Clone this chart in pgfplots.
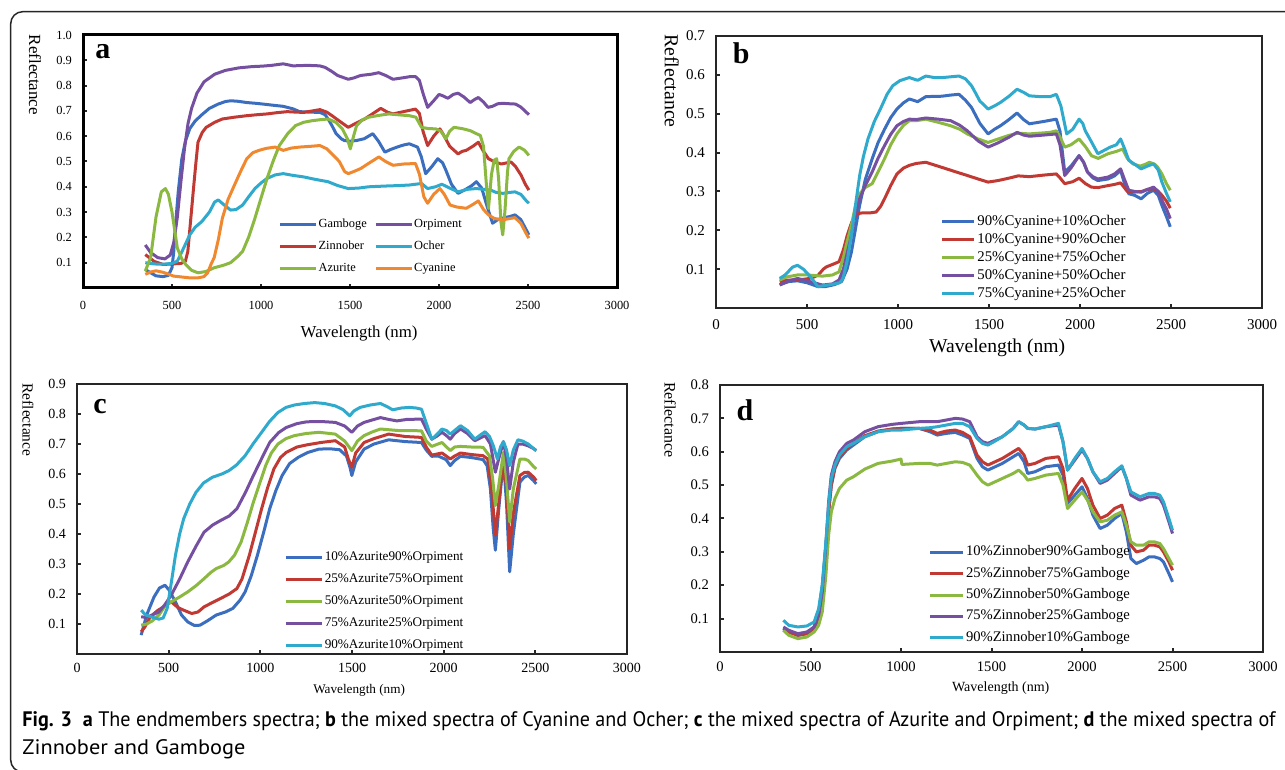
\documentclass[border=0pt]{standalone}
\usepackage{fontspec}
\setmainfont{Liberation Serif}
\newfontfamily\capfont{PT Sans}
\usepackage{graphicx}
\usepackage{pgfplots}
\pgfplotsset{compat=1.18}

\definecolor{cblue}{RGB}{59,110,190}
\definecolor{cred}{RGB}{192,57,50}
\definecolor{cgreen}{RGB}{139,184,64}
\definecolor{cpurple}{RGB}{118,80,160}
\definecolor{ccyan}{RGB}{48,170,204}
\definecolor{corange}{RGB}{240,136,48}

\pgfplotsset{
  spec/.style={
    scale only axis, xmin=0, xmax=3000, ymin=0,
    xtick={0,500,1000,1500,2000,2500,3000},
    xticklabels={0,500,1000,1500,2000,2500,3000},
    xtick pos=bottom, ytick pos=left, tick align=inside,
    major tick length=2pt, tick style={black!85, line width=1pt},
    axis line style={black!85, line width=1pt},
    legend cell align=left,
    every axis plot/.append style={line width=1.5pt, line join=round},
  },
  leglen/.style={legend image code/.code={\draw[##1, line width=1.5pt] (0pt,0pt) -- (#1,0pt);}},
}

\begin{document}
\begin{tikzpicture}
\useasboundingbox (0,0) rectangle (642.5pt,385pt);
\begin{scope}
\clip (0,0) rectangle (642.5pt,385pt);
\draw[black!85, line width=0.75pt, rounded corners=6pt] (5.35pt,-1pt) rectangle (660pt,379.15pt);
\end{scope}

% ---------------- a: endmembers
\begin{axis}[spec, at={(41.5pt,241pt)}, anchor=south west, width=267pt, height=126.5pt, ymax=1,
  ytick={0.1,0.2,0.3,0.4,0.5,0.6,0.7,0.8,0.9,1.0},
  yticklabels={0.1,0.2,0.3,0.4,0.5,0.6,0.7,0.8,0.9,1.0},
  axis line style={black, line width=1.5pt},
  tick label style={font=\fontsize{6.2}{7}\selectfont},
  xticklabel style={yshift=-3pt}, yticklabel style={xshift=-2pt},
  xlabel={Wavelength (nm)},
  xlabel style={font=\fontsize{8.4}{10}\selectfont, at={(axis description cs:0.517,-0.178)}, anchor=center},
  ylabel={Reflectance},
  ylabel style={font=\fontsize{8.5}{10}\selectfont, rotate=180, at={(axis description cs:-0.09,0.842)}, anchor=center},
  legend columns=2, leglen=18pt,
  legend style={at={(axis description cs:0.354,0.295)}, anchor=north west, draw=none, fill=none,
    font=\fontsize{6.2}{7}\selectfont, row sep=4pt, nodes={inner sep=0.6pt},
    /tikz/column 2/.style={column sep=3pt}},
]
\addplot[cblue] coordinates {(350,0.073)(380,0.06)(410,0.048)(450,0.045)(480,0.05)(500,0.08)(510,0.145)(520,0.25)(535,0.38)(555,0.51)(575,0.58)(600,0.63)(630,0.66)(668,0.685)(710,0.71)(760,0.727)(800,0.737)(830,0.74)(870,0.738)(920,0.733)(970,0.73)(1011,0.727)(1060,0.723)(1125,0.718)(1180,0.708)(1217,0.697)(1280,0.695)(1331,0.694)(1360,0.685)(1377,0.668)(1400,0.64)(1422,0.61)(1450,0.59)(1468,0.583)(1500,0.58)(1537,0.583)(1580,0.59)(1628,0.61)(1660,0.58)(1696,0.537)(1730,0.548)(1765,0.557)(1800,0.565)(1833,0.57)(1879,0.557)(1900,0.52)(1925,0.452)(1960,0.48)(1993,0.511)(2020,0.495)(2039,0.465)(2070,0.41)(2107,0.374)(2150,0.39)(2185,0.405)(2210,0.42)(2240,0.395)(2267,0.33)(2285,0.29)(2301,0.256)(2330,0.27)(2358,0.276)(2400,0.283)(2427,0.289)(2460,0.27)(2490,0.23)(2505,0.21)};
\addlegendentry{Gamboge}
\addplot[cpurple] coordinates {(350,0.17)(380,0.14)(420,0.12)(460,0.115)(490,0.13)(510,0.18)(530,0.28)(550,0.42)(570,0.55)(590,0.65)(610,0.71)(640,0.77)(680,0.815)(740,0.845)(800,0.86)(875,0.87)(950,0.875)(1010,0.877)(1060,0.88)(1125,0.886)(1180,0.878)(1262,0.88)(1330,0.878)(1360,0.872)(1400,0.855)(1430,0.84)(1490,0.825)(1520,0.83)(1560,0.84)(1620,0.845)(1662,0.851)(1700,0.84)(1742,0.825)(1790,0.83)(1833,0.835)(1870,0.835)(1890,0.82)(1910,0.77)(1936,0.714)(1970,0.74)(2000,0.765)(2020,0.76)(2050,0.75)(2080,0.765)(2107,0.77)(2140,0.755)(2175,0.733)(2200,0.745)(2221,0.753)(2250,0.735)(2275,0.714)(2300,0.718)(2330,0.728)(2358,0.73)(2400,0.728)(2430,0.727)(2460,0.715)(2490,0.695)(2505,0.685)};
\addlegendentry{Orpiment}
\addplot[cred] coordinates {(350,0.132)(400,0.105)(450,0.093)(500,0.095)(550,0.097)(575,0.105)(589,0.145)(605,0.27)(623,0.41)(635,0.5)(646,0.576)(670,0.615)(692,0.635)(740,0.655)(783,0.668)(850,0.675)(920,0.681)(980,0.685)(1034,0.688)(1090,0.693)(1148,0.697)(1200,0.695)(1240,0.694)(1290,0.7)(1331,0.705)(1370,0.695)(1399,0.681)(1440,0.66)(1490,0.635)(1530,0.65)(1582,0.668)(1630,0.69)(1673,0.71)(1710,0.695)(1742,0.688)(1800,0.697)(1840,0.703)(1868,0.707)(1890,0.69)(1910,0.62)(1936,0.563)(1970,0.6)(2005,0.629)(2030,0.6)(2060,0.56)(2107,0.53)(2130,0.54)(2153,0.544)(2190,0.56)(2221,0.576)(2250,0.54)(2278,0.511)(2313,0.498)(2350,0.49)(2404,0.498)(2430,0.48)(2461,0.446)(2485,0.41)(2505,0.387)};
\addlegendentry{Zinnober}
\addplot[ccyan] coordinates {(350,0.1)(400,0.095)(450,0.094)(500,0.097)(530,0.106)(560,0.15)(600,0.21)(630,0.24)(668,0.263)(710,0.3)(740,0.34)(760,0.348)(790,0.33)(829,0.308)(860,0.31)(897,0.328)(930,0.36)(966,0.393)(1000,0.415)(1034,0.433)(1080,0.447)(1125,0.452)(1180,0.445)(1240,0.439)(1300,0.43)(1377,0.42)(1430,0.405)(1490,0.393)(1550,0.395)(1605,0.4)(1700,0.403)(1780,0.405)(1833,0.407)(1902,0.413)(1936,0.393)(1980,0.4)(2016,0.41)(2060,0.395)(2107,0.38)(2160,0.39)(2210,0.393)(2250,0.39)(2290,0.387)(2320,0.378)(2358,0.374)(2400,0.378)(2427,0.38)(2460,0.37)(2490,0.345)(2505,0.335)};
\addlegendentry{Ocher}
\addplot[cgreen] coordinates {(350,0.067)(380,0.12)(410,0.28)(440,0.38)(463,0.393)(480,0.37)(500,0.3)(530,0.158)(555,0.115)(577,0.093)(610,0.07)(646,0.06)(690,0.065)(737,0.08)(790,0.09)(829,0.1)(870,0.125)(897,0.145)(930,0.2)(966,0.276)(1000,0.355)(1034,0.433)(1070,0.505)(1103,0.563)(1150,0.61)(1194,0.642)(1240,0.655)(1285,0.661)(1330,0.665)(1377,0.668)(1420,0.655)(1457,0.629)(1485,0.59)(1502,0.55)(1520,0.6)(1537,0.642)(1570,0.665)(1605,0.675)(1660,0.682)(1719,0.688)(1780,0.684)(1833,0.681)(1870,0.675)(1902,0.635)(1940,0.63)(1982,0.629)(2010,0.62)(2039,0.59)(2060,0.62)(2084,0.635)(2130,0.63)(2175,0.622)(2210,0.61)(2232,0.603)(2250,0.56)(2265,0.42)(2278,0.315)(2295,0.45)(2310,0.505)(2324,0.511)(2335,0.43)(2348,0.26)(2358,0.21)(2370,0.3)(2385,0.46)(2393,0.511)(2420,0.54)(2450,0.557)(2480,0.545)(2505,0.524)};
\addlegendentry{Azurite}
\addplot[corange] coordinates {(350,0.054)(380,0.063)(410,0.068)(450,0.062)(480,0.055)(509,0.047)(560,0.043)(600,0.04)(646,0.04)(680,0.045)(700,0.06)(720,0.095)(737,0.12)(760,0.19)(783,0.276)(815,0.35)(851,0.407)(885,0.46)(920,0.511)(955,0.535)(989,0.544)(1030,0.552)(1080,0.557)(1125,0.544)(1170,0.553)(1217,0.557)(1280,0.56)(1331,0.563)(1370,0.55)(1399,0.53)(1440,0.5)(1470,0.46)(1490,0.452)(1520,0.46)(1560,0.472)(1610,0.495)(1662,0.518)(1700,0.5)(1742,0.485)(1800,0.49)(1868,0.492)(1890,0.45)(1915,0.36)(1936,0.335)(1970,0.37)(2005,0.393)(2030,0.37)(2062,0.328)(2100,0.32)(2153,0.315)(2190,0.33)(2221,0.344)(2250,0.31)(2278,0.289)(2310,0.275)(2358,0.269)(2400,0.275)(2427,0.278)(2460,0.255)(2490,0.215)(2505,0.197)};
\addlegendentry{Cyanine}
\node[font=\bfseries\fontsize{15}{15}\selectfont] at (rel axis cs:0.037,0.935) {a};
\end{axis}

% ---------------- b: Cyanine + Ocher
\begin{axis}[spec, at={(358pt,231pt)}, anchor=south west, width=273pt, height=136pt, ymax=0.7,
  ytick={0.1,0.2,0.3,0.4,0.5,0.6,0.7},
  yticklabels={0.1,0.2,0.3,0.4,0.5,0.6,0.7},
  tick label style={font=\fontsize{7.5}{9}\selectfont},
  xticklabel style={yshift=-2pt}, yticklabel style={xshift=-2pt},
  xlabel={Wavelength (nm)},
  xlabel style={font=\fontsize{9.8}{11}\selectfont, at={(axis description cs:0.515,-0.147)}, anchor=center},
  ylabel={Reflectance},
  ylabel style={font=\fontsize{9.9}{11}\selectfont, rotate=180, at={(axis description cs:-0.081,0.835)}, anchor=center},
  leglen=16pt,
  legend style={at={(axis description cs:0.40,0.364)}, anchor=north west, draw=none, fill=none,
    font=\fontsize{7.4}{8}\selectfont, row sep=0.8pt, nodes={inner sep=0.8pt}},
]
\addplot[cblue] coordinates {(350,0.06)(400,0.068)(448,0.07)(500,0.065)(560,0.055)(600,0.055)(650,0.06)(690,0.068)(720,0.1)(744,0.144)(765,0.2)(789,0.264)(820,0.33)(858,0.384)(890,0.425)(926,0.46)(960,0.49)(994,0.512)(1030,0.528)(1062,0.538)(1108,0.531)(1153,0.544)(1240,0.545)(1290,0.548)(1335,0.55)(1370,0.535)(1404,0.516)(1450,0.475)(1495,0.448)(1530,0.46)(1563,0.469)(1610,0.485)(1654,0.502)(1690,0.485)(1722,0.474)(1800,0.48)(1870,0.486)(1890,0.455)(1916,0.35)(1950,0.365)(1995,0.392)(2020,0.375)(2041,0.35)(2070,0.335)(2098,0.328)(2154,0.332)(2190,0.34)(2223,0.354)(2245,0.32)(2268,0.294)(2300,0.29)(2336,0.281)(2370,0.295)(2404,0.303)(2430,0.29)(2450,0.264)(2475,0.235)(2496,0.209)};
\addlegendentry{90\%Cyanine+10\%Ocher}
\addplot[cred] coordinates {(350,0.068)(400,0.072)(448,0.072)(500,0.075)(530,0.078)(562,0.085)(590,0.1)(607,0.106)(640,0.112)(676,0.119)(700,0.15)(721,0.187)(745,0.22)(767,0.238)(790,0.244)(812,0.245)(850,0.245)(880,0.247)(905,0.262)(926,0.281)(960,0.315)(994,0.345)(1030,0.36)(1062,0.367)(1100,0.372)(1153,0.375)(1200,0.368)(1267,0.358)(1320,0.35)(1381,0.341)(1440,0.332)(1495,0.324)(1550,0.328)(1608,0.334)(1660,0.34)(1722,0.338)(1800,0.342)(1870,0.345)(1890,0.335)(1916,0.32)(1960,0.325)(1995,0.334)(2030,0.32)(2063,0.311)(2100,0.31)(2154,0.315)(2190,0.318)(2223,0.322)(2260,0.3)(2291,0.298)(2340,0.3)(2370,0.305)(2404,0.307)(2430,0.3)(2450,0.29)(2475,0.275)(2496,0.257)};
\addlegendentry{10\%Cyanine+90\%Ocher}
\addplot[cgreen] coordinates {(350,0.072)(390,0.08)(448,0.085)(500,0.085)(585,0.082)(640,0.085)(676,0.093)(700,0.13)(720,0.17)(744,0.213)(765,0.26)(789,0.294)(820,0.31)(858,0.32)(890,0.35)(926,0.384)(960,0.42)(994,0.448)(1030,0.47)(1062,0.482)(1100,0.482)(1153,0.486)(1220,0.478)(1290,0.469)(1340,0.46)(1381,0.448)(1440,0.435)(1495,0.426)(1550,0.435)(1608,0.444)(1660,0.45)(1720,0.448)(1780,0.45)(1836,0.452)(1870,0.456)(1890,0.44)(1916,0.414)(1950,0.42)(1995,0.435)(2030,0.415)(2063,0.392)(2100,0.385)(2154,0.397)(2200,0.403)(2234,0.409)(2260,0.385)(2291,0.371)(2330,0.365)(2360,0.37)(2382,0.375)(2410,0.37)(2427,0.362)(2450,0.345)(2475,0.32)(2496,0.303)};
\addlegendentry{25\%Cyanine+75\%Ocher}
\addplot[cpurple] coordinates {(350,0.059)(400,0.07)(448,0.076)(500,0.07)(585,0.059)(640,0.062)(676,0.072)(700,0.1)(720,0.14)(744,0.187)(765,0.24)(789,0.281)(820,0.315)(858,0.35)(890,0.385)(926,0.418)(960,0.447)(994,0.469)(1030,0.48)(1062,0.486)(1100,0.485)(1153,0.489)(1220,0.486)(1290,0.482)(1340,0.47)(1381,0.456)(1440,0.43)(1495,0.414)(1550,0.425)(1608,0.439)(1654,0.452)(1690,0.445)(1722,0.442)(1800,0.445)(1870,0.448)(1890,0.42)(1916,0.341)(1950,0.36)(1995,0.392)(2020,0.375)(2041,0.35)(2070,0.338)(2098,0.332)(2154,0.337)(2190,0.345)(2223,0.358)(2245,0.33)(2268,0.303)(2300,0.3)(2336,0.298)(2370,0.305)(2404,0.311)(2430,0.3)(2450,0.277)(2475,0.255)(2496,0.23)};
\addlegendentry{50\%Cyanine+50\%Ocher}
\addplot[ccyan] coordinates {(350,0.076)(380,0.085)(420,0.105)(448,0.11)(480,0.1)(520,0.08)(560,0.055)(600,0.058)(650,0.062)(680,0.065)(698,0.076)(720,0.12)(744,0.187)(765,0.26)(789,0.34)(810,0.39)(835,0.435)(870,0.48)(903,0.512)(940,0.55)(971,0.572)(1010,0.585)(1062,0.593)(1108,0.586)(1153,0.597)(1200,0.593)(1244,0.593)(1290,0.595)(1335,0.597)(1370,0.59)(1404,0.572)(1430,0.55)(1449,0.533)(1495,0.512)(1530,0.52)(1563,0.529)(1610,0.545)(1654,0.563)(1690,0.555)(1722,0.546)(1780,0.544)(1836,0.544)(1870,0.55)(1895,0.52)(1927,0.448)(1960,0.46)(1995,0.486)(2015,0.475)(2029,0.456)(2060,0.43)(2098,0.397)(2130,0.405)(2166,0.414)(2200,0.42)(2223,0.435)(2245,0.41)(2268,0.38)(2300,0.37)(2336,0.358)(2370,0.365)(2404,0.371)(2430,0.355)(2450,0.324)(2475,0.295)(2496,0.273)};
\addlegendentry{75\%Cyanine+25\%Ocher}
\node[font=\bfseries\fontsize{15}{15}\selectfont] at (rel axis cs:0.046,0.935) {b};
\end{axis}

% ---------------- c: Azurite + Orpiment
\begin{axis}[spec, at={(38.5pt,58pt)}, anchor=south west, width=275pt, height=135pt, ymax=0.9,
  ytick={0.1,0.2,0.3,0.4,0.5,0.6,0.7,0.8,0.9},
  yticklabels={0.1,0.2,0.3,0.4,0.5,0.6,0.7,0.8,0.9},
  tick label style={font=\fontsize{7}{8}\selectfont},
  xticklabel style={yshift=-1pt}, yticklabel style={xshift=-2pt},
  xlabel={Wavelength (nm)},
  xlabel style={font=\fontsize{6.6}{8}\selectfont, at={(axis description cs:0.513,-0.133)}, anchor=center},
  ylabel={Reflectance},
  ylabel style={font=\fontsize{7.7}{9}\selectfont, rotate=180, at={(axis description cs:-0.089,0.867)}, anchor=center},
  leglen=18pt,
  legend style={at={(axis description cs:0.365,0.4)}, anchor=north west, draw=none, fill=none,
    font=\fontsize{6.6}{8}\selectfont, row sep=3.5pt, nodes={inner sep=0.8pt}},
]
\addplot[cblue] coordinates {(350,0.063)(380,0.13)(420,0.19)(450,0.22)(480,0.229)(500,0.215)(537,0.174)(570,0.13)(604,0.107)(640,0.095)(671,0.096)(710,0.11)(760,0.13)(810,0.14)(850,0.152)(890,0.18)(917,0.207)(950,0.26)(984,0.329)(1020,0.41)(1051,0.484)(1085,0.545)(1119,0.595)(1160,0.635)(1208,0.656)(1260,0.672)(1320,0.683)(1380,0.684)(1432,0.681)(1470,0.66)(1490,0.62)(1499,0.595)(1520,0.64)(1566,0.683)(1620,0.7)(1700,0.714)(1790,0.708)(1879,0.705)(1905,0.68)(1935,0.659)(1970,0.66)(2013,0.648)(2036,0.628)(2060,0.645)(2092,0.659)(2150,0.655)(2215,0.648)(2237,0.628)(2255,0.55)(2270,0.42)(2282,0.346)(2300,0.48)(2326,0.648)(2343,0.5)(2360,0.274)(2380,0.4)(2416,0.573)(2440,0.59)(2461,0.595)(2490,0.578)(2505,0.567)};
\addlegendentry{10\%Azurite90\%Orpiment}
\addplot[cred] coordinates {(350,0.074)(370,0.09)(400,0.124)(440,0.145)(480,0.16)(514,0.174)(550,0.155)(582,0.146)(626,0.135)(660,0.14)(693,0.157)(740,0.172)(783,0.185)(830,0.2)(872,0.218)(900,0.25)(940,0.329)(975,0.41)(1007,0.484)(1040,0.555)(1074,0.617)(1110,0.655)(1141,0.672)(1200,0.69)(1253,0.697)(1330,0.705)(1409,0.711)(1460,0.69)(1480,0.65)(1499,0.622)(1520,0.67)(1566,0.705)(1620,0.718)(1700,0.733)(1790,0.725)(1879,0.722)(1905,0.69)(1935,0.663)(1991,0.67)(2036,0.65)(2060,0.66)(2092,0.67)(2150,0.665)(2215,0.661)(2240,0.65)(2262,0.55)(2282,0.395)(2300,0.5)(2326,0.659)(2343,0.55)(2360,0.351)(2380,0.47)(2416,0.595)(2440,0.605)(2461,0.606)(2490,0.59)(2505,0.578)};
\addlegendentry{25\%Azurite75\%Orpiment}
\addplot[cgreen] coordinates {(350,0.096)(380,0.1)(410,0.11)(447,0.13)(480,0.16)(514,0.174)(560,0.19)(604,0.207)(650,0.228)(693,0.251)(730,0.272)(760,0.285)(800,0.295)(828,0.307)(860,0.33)(895,0.373)(930,0.44)(962,0.506)(1000,0.575)(1029,0.628)(1060,0.67)(1096,0.7)(1140,0.718)(1186,0.728)(1250,0.735)(1320,0.739)(1409,0.733)(1460,0.71)(1499,0.678)(1530,0.71)(1566,0.728)(1610,0.74)(1655,0.75)(1750,0.745)(1879,0.744)(1905,0.71)(1935,0.692)(1991,0.705)(2036,0.678)(2060,0.69)(2092,0.692)(2150,0.69)(2215,0.689)(2250,0.66)(2268,0.58)(2282,0.495)(2300,0.56)(2326,0.672)(2343,0.58)(2360,0.44)(2380,0.55)(2416,0.65)(2440,0.65)(2461,0.645)(2490,0.625)(2505,0.617)};
\addlegendentry{50\%Azurite50\%Orpiment}
\addplot[cpurple] coordinates {(350,0.124)(380,0.122)(410,0.13)(447,0.14)(480,0.165)(514,0.196)(560,0.25)(604,0.307)(650,0.36)(693,0.406)(740,0.43)(783,0.445)(830,0.46)(872,0.484)(920,0.54)(962,0.595)(1010,0.655)(1051,0.705)(1100,0.738)(1141,0.755)(1200,0.768)(1253,0.774)(1330,0.775)(1409,0.772)(1460,0.76)(1499,0.739)(1530,0.76)(1566,0.772)(1610,0.78)(1655,0.788)(1700,0.782)(1745,0.777)(1800,0.782)(1879,0.783)(1905,0.75)(1935,0.716)(1960,0.725)(1991,0.739)(2015,0.728)(2036,0.716)(2060,0.735)(2092,0.75)(2130,0.735)(2170,0.711)(2200,0.72)(2226,0.728)(2255,0.7)(2282,0.606)(2300,0.65)(2326,0.708)(2343,0.65)(2360,0.55)(2380,0.64)(2405,0.7)(2430,0.7)(2461,0.694)(2490,0.685)(2505,0.678)};
\addlegendentry{75\%Azurite25\%Orpiment}
\addplot[ccyan] coordinates {(350,0.146)(375,0.13)(403,0.124)(447,0.116)(470,0.12)(492,0.152)(515,0.24)(537,0.329)(560,0.4)(582,0.451)(615,0.5)(649,0.539)(690,0.57)(738,0.589)(790,0.6)(828,0.611)(870,0.63)(917,0.661)(960,0.7)(1007,0.739)(1050,0.775)(1096,0.805)(1140,0.822)(1186,0.83)(1240,0.835)(1297,0.838)(1350,0.835)(1409,0.827)(1450,0.815)(1488,0.794)(1510,0.81)(1544,0.822)(1600,0.83)(1655,0.835)(1690,0.825)(1722,0.814)(1770,0.82)(1812,0.822)(1850,0.82)(1879,0.816)(1905,0.77)(1935,0.716)(1960,0.73)(1991,0.75)(2015,0.745)(2036,0.733)(2060,0.745)(2092,0.761)(2130,0.745)(2170,0.716)(2200,0.73)(2226,0.741)(2250,0.725)(2271,0.694)(2293,0.65)(2310,0.69)(2326,0.708)(2343,0.68)(2360,0.628)(2380,0.68)(2405,0.714)(2430,0.71)(2461,0.7)(2490,0.685)(2505,0.678)};
\addlegendentry{90\%Azurite10\%Orpiment}
\node[font=\bfseries\fontsize{15}{15}\selectfont] at (rel axis cs:0.042,0.915) {c};
\end{axis}

% ---------------- d: Zinnober + Gamboge
\begin{axis}[spec, at={(360pt,59pt)}, anchor=south west, width=271.5pt, height=133.5pt, ymax=0.8,
  ytick={0.1,0.2,0.3,0.4,0.5,0.6,0.7,0.8},
  yticklabels={0.1,0.2,0.3,0.4,0.5,0.6,0.7,0.8},
  tick label style={font=\fontsize{7.3}{8}\selectfont},
  xticklabel style={yshift=-1.5pt}, yticklabel style={xshift=-2pt},
  xlabel={Wavelength (nm)},
  xlabel style={font=\fontsize{7}{8}\selectfont, at={(axis description cs:0.517,-0.135)}, anchor=center},
  ylabel={Reflectance},
  ylabel style={font=\fontsize{8}{9}\selectfont, rotate=180, at={(axis description cs:-0.092,0.869)}, anchor=center},
  leglen=16.5pt,
  legend style={at={(axis description cs:0.372,0.42)}, anchor=north west, draw=none, fill=none,
    font=\fontsize{7.3}{8}\selectfont, row sep=2.5pt, nodes={inner sep=0.8pt}},
]
\addplot[cblue] coordinates {(350,0.07)(380,0.06)(430,0.05)(480,0.055)(520,0.075)(545,0.12)(565,0.2)(585,0.32)(600,0.42)(615,0.5)(635,0.55)(660,0.58)(700,0.605)(737,0.62)(800,0.645)(873,0.66)(950,0.668)(1002,0.67)(1100,0.67)(1160,0.66)(1200,0.65)(1250,0.655)(1300,0.658)(1340,0.65)(1380,0.64)(1420,0.58)(1450,0.555)(1480,0.545)(1520,0.555)(1560,0.565)(1620,0.585)(1650,0.595)(1680,0.57)(1700,0.535)(1740,0.54)(1800,0.555)(1870,0.56)(1895,0.53)(1920,0.445)(1960,0.47)(2000,0.495)(2030,0.46)(2060,0.41)(2100,0.37)(2140,0.38)(2180,0.4)(2220,0.415)(2245,0.36)(2270,0.28)(2300,0.265)(2340,0.275)(2370,0.285)(2400,0.285)(2430,0.28)(2450,0.27)(2480,0.235)(2500,0.21)};
\addlegendentry{10\%Zinnober90\%Gamboge}
\addplot[cred] coordinates {(350,0.07)(380,0.06)(430,0.05)(480,0.055)(520,0.07)(545,0.1)(565,0.17)(585,0.3)(600,0.42)(615,0.5)(635,0.555)(660,0.585)(700,0.61)(737,0.625)(800,0.648)(873,0.662)(950,0.668)(1002,0.67)(1100,0.67)(1160,0.665)(1200,0.655)(1250,0.662)(1300,0.665)(1340,0.658)(1380,0.645)(1420,0.59)(1450,0.57)(1480,0.56)(1520,0.57)(1560,0.58)(1620,0.6)(1650,0.61)(1680,0.59)(1700,0.56)(1740,0.565)(1800,0.58)(1870,0.585)(1895,0.55)(1920,0.455)(1960,0.49)(2000,0.52)(2030,0.49)(2060,0.44)(2100,0.4)(2140,0.41)(2180,0.43)(2220,0.44)(2245,0.39)(2270,0.32)(2300,0.3)(2340,0.305)(2370,0.32)(2400,0.32)(2430,0.315)(2450,0.3)(2480,0.27)(2500,0.245)};
\addlegendentry{25\%Zinnober75\%Gamboge}
\addplot[cgreen] coordinates {(350,0.065)(380,0.05)(430,0.04)(480,0.045)(520,0.06)(545,0.08)(565,0.12)(585,0.23)(600,0.35)(615,0.42)(635,0.46)(660,0.49)(700,0.515)(737,0.525)(800,0.548)(873,0.565)(950,0.572)(1000,0.578)(1005,0.562)(1100,0.565)(1160,0.565)(1200,0.56)(1250,0.565)(1300,0.57)(1340,0.568)(1380,0.56)(1420,0.53)(1450,0.51)(1480,0.5)(1520,0.51)(1560,0.52)(1620,0.535)(1650,0.545)(1680,0.53)(1700,0.515)(1740,0.52)(1800,0.53)(1870,0.535)(1895,0.5)(1920,0.43)(1960,0.455)(2000,0.48)(2030,0.455)(2060,0.42)(2100,0.39)(2140,0.395)(2180,0.41)(2220,0.42)(2245,0.38)(2270,0.33)(2300,0.32)(2340,0.32)(2370,0.33)(2400,0.33)(2430,0.325)(2450,0.31)(2480,0.28)(2500,0.26)};
\addlegendentry{50\%Zinnober50\%Gamboge}
\addplot[cpurple] coordinates {(350,0.075)(380,0.065)(430,0.055)(480,0.06)(520,0.075)(545,0.11)(565,0.18)(585,0.32)(600,0.45)(615,0.53)(635,0.57)(660,0.6)(700,0.625)(737,0.635)(800,0.66)(873,0.675)(950,0.682)(1002,0.685)(1100,0.69)(1160,0.69)(1200,0.69)(1250,0.695)(1300,0.7)(1340,0.698)(1380,0.69)(1420,0.645)(1450,0.63)(1480,0.625)(1520,0.635)(1560,0.645)(1620,0.67)(1650,0.69)(1680,0.68)(1700,0.67)(1740,0.668)(1800,0.675)(1870,0.68)(1895,0.63)(1920,0.545)(1960,0.575)(2000,0.605)(2030,0.58)(2060,0.54)(2100,0.505)(2140,0.515)(2180,0.535)(2220,0.555)(2245,0.52)(2270,0.47)(2320,0.455)(2370,0.465)(2400,0.465)(2430,0.46)(2450,0.44)(2480,0.39)(2500,0.355)};
\addlegendentry{75\%Zinnober25\%Gamboge}
\addplot[ccyan] coordinates {(350,0.095)(380,0.08)(430,0.075)(480,0.078)(520,0.09)(545,0.13)(565,0.2)(585,0.33)(600,0.44)(615,0.52)(635,0.56)(660,0.59)(700,0.615)(737,0.625)(800,0.645)(873,0.66)(950,0.665)(1002,0.665)(1100,0.67)(1160,0.672)(1200,0.675)(1250,0.68)(1300,0.685)(1340,0.685)(1380,0.675)(1420,0.64)(1450,0.625)(1480,0.62)(1520,0.632)(1560,0.645)(1620,0.67)(1650,0.69)(1680,0.68)(1700,0.67)(1740,0.668)(1800,0.675)(1870,0.685)(1895,0.63)(1920,0.545)(1960,0.58)(2000,0.61)(2030,0.58)(2060,0.54)(2100,0.51)(2140,0.52)(2180,0.54)(2220,0.558)(2245,0.52)(2270,0.48)(2320,0.465)(2370,0.475)(2400,0.475)(2430,0.47)(2450,0.45)(2480,0.4)(2500,0.365)};
\addlegendentry{90\%Zinnober10\%Gamboge}
\node[font=\bfseries\fontsize{15}{15}\selectfont] at (rel axis cs:0.046,0.905) {d};
\end{axis}

% ---------------- caption
\node[anchor=base west, inner sep=0pt] at (11pt,21.5pt) {\resizebox{626.5pt}{\height}{\capfont\fontsize{10.5}{12}\selectfont\textbf{Fig. 3}\hspace{0.55em}\textbf{a} The endmembers spectra; \textbf{b} the mixed spectra of Cyanine and Ocher; \textbf{c} the mixed spectra of Azurite and Orpiment; \textbf{d} the mixed spectra of}};
\node[anchor=base west, inner sep=0pt] at (11pt,7.5pt) {\resizebox{111.5pt}{\height}{\capfont\fontsize{10.5}{12}\selectfont Zinnober and Gamboge}};
\end{tikzpicture}
\end{document}
